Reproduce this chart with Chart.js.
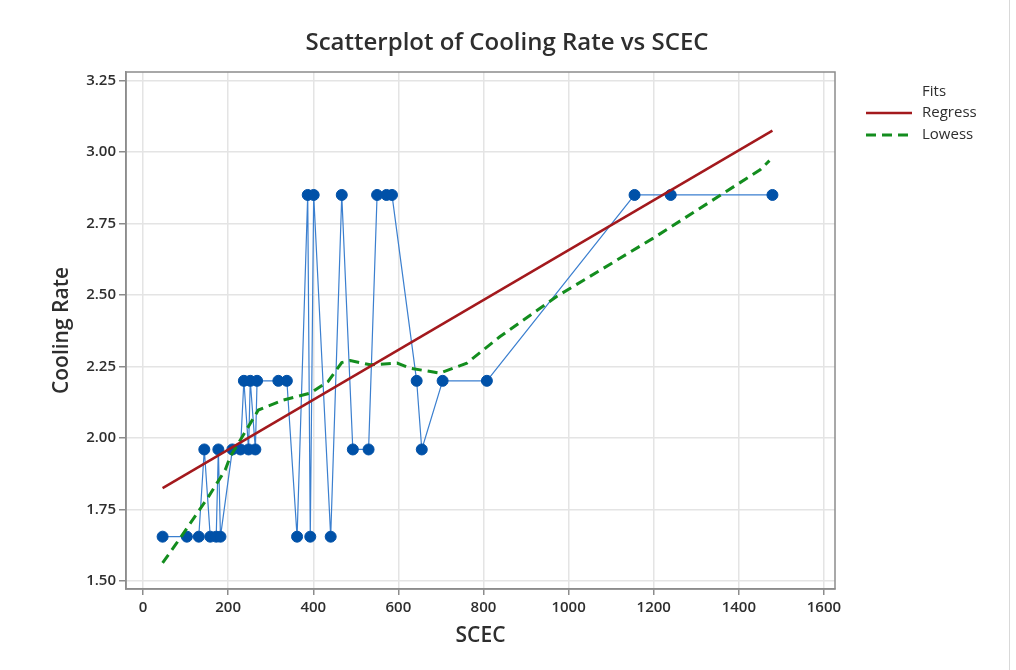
<!DOCTYPE html>
<html>
<head>
<meta charset="utf-8">
<title>Scatterplot of Cooling Rate vs SCEC</title>
<script src="https://cdn.jsdelivr.net/npm/chart.js@4.4.1/dist/chart.umd.min.js"></script>
<style>
  html, body { margin: 0; padding: 0; background: #fff; }
  #wrap { position: relative; width: 1016px; height: 670px; }
  #edge { position: absolute; left: 1009px; top: 0; width: 1px; height: 670px; background: #d9d9d9; }
</style>
</head>
<body>
<div id="wrap">
  <canvas id="chart" width="1016" height="670"></canvas>
  <div id="edge"></div>
</div>
<script>
// observations, in worksheet order
var scec = [46, 103, 131, 144, 158, 172, 177, 182, 210, 229, 237, 248, 252, 264, 268, 318, 338,
  362, 387, 393, 401, 441, 467, 493, 530, 550, 572, 585, 643, 655, 704, 808, 1155, 1240, 1479];
var coolingRate = [1.655, 1.655, 1.655, 1.96, 1.655, 1.655, 1.96, 1.655, 1.96, 1.96, 2.2, 1.96, 2.2, 1.96, 2.2, 2.2, 2.2,
  1.655, 2.85, 1.655, 2.85, 1.655, 2.85, 1.96, 1.96, 2.85, 2.85, 2.85, 2.2, 1.96, 2.2, 2.2, 2.85, 2.85, 2.85];

// fitted lines
var regressX = [46, 1479];
var regressY = [1.825, 3.075];
var lowessX = [46, 76, 154, 193, 205, 229, 271, 330, 393, 435, 467, 487, 534, 597, 628, 698, 761, 839, 972, 1199, 1450, 1472];
var lowessY = [1.563, 1.626, 1.795, 1.888, 1.935, 1.994, 2.098, 2.133, 2.157, 2.198, 2.264, 2.271, 2.256, 2.262, 2.244, 2.227, 2.262, 2.355, 2.495, 2.699, 2.938, 2.97];

var xTicks = [0, 200, 400, 600, 800, 1000, 1200, 1400, 1600];
var yTicks = [1.5, 1.75, 2.0, 2.25, 2.5, 2.75, 3.0, 3.25];

function pairs(xs, ys) {
  return xs.map(function (x, i) { return { x: x, y: ys[i] }; });
}

var FONT = "'Open Sans', 'Noto Sans', sans-serif";
var TEXT = "#2e2e2e";

// frame round the plot area, title and the "Fits" key on the right
var decor = {
  id: "decor",
  afterDatasetsDraw: function (chart) {
    var ctx = chart.ctx, a = chart.chartArea;
    ctx.save();
    ctx.strokeStyle = "#8c8c8c";
    ctx.lineWidth = 1.5;
    ctx.strokeRect(a.left, a.top, a.right - a.left, a.bottom - a.top);

    ctx.fillStyle = TEXT;
    ctx.font = "600 24px " + FONT;
    ctx.textAlign = "center";
    ctx.textBaseline = "middle";
    ctx.fillText("Scatterplot of Cooling Rate vs SCEC", 507, 43);

    ctx.font = "15px " + FONT;
    ctx.textAlign = "left";
    ctx.fillText("Fits", 922, 92);
    var rows = chart.data.datasets.filter(function (d) { return d.inKey; });
    rows.forEach(function (d, i) {
      var y = 113 + i * 22;
      ctx.strokeStyle = d.borderColor;
      ctx.lineWidth = d.borderWidth;
      ctx.setLineDash(d.borderDash || []);
      ctx.beginPath();
      ctx.moveTo(866, y);
      ctx.lineTo(912, y);
      ctx.stroke();
      ctx.setLineDash([]);
      ctx.fillText(d.label, 922, y);
    });
    ctx.restore();
  }
};

var config = {
  type: "scatter",
  data: {
    datasets: [
      {
        label: "Regress",
        inKey: true,
        data: pairs(regressX, regressY),
        showLine: true,
        borderColor: "#a3191d",
        borderWidth: 2.5,
        pointRadius: 0
      },
      {
        label: "Lowess",
        inKey: true,
        data: pairs(lowessX, lowessY),
        showLine: true,
        borderColor: "#138d1e",
        borderWidth: 3,
        borderDash: [10, 6],
        pointRadius: 0
      },
      {
        label: "Cooling Rate",
        data: pairs(scec, coolingRate),
        showLine: true,
        borderColor: "#3b7fcf",
        borderWidth: 1.2,
        pointRadius: 5.5,
        pointBorderWidth: 1,
        pointBackgroundColor: "#0051a8",
        pointBorderColor: "#0051a8"
      }
    ]
  },
  options: {
    responsive: false,
    animation: false,
    layout: {
      padding: { left: 0, right: 181, top: 72, bottom: 0 }
    },
    plugins: {
      legend: { display: false },
      tooltip: { enabled: false }
    },
    scales: {
      x: {
        type: "linear",
        min: -40,
        max: 1626,
        afterBuildTicks: function (scale) {
          scale.ticks = xTicks.map(function (v) { return { value: v }; });
        },
        afterFit: function (scale) { scale.height = 81; },
        grid: { color: "#e4e4e4", lineWidth: 1.5, tickColor: "#8c8c8c", tickLength: 6 },
        border: { color: "#8c8c8c", width: 1.5 },
        ticks: {
          color: TEXT,
          font: { family: FONT, size: 15, weight: "600" },
          padding: 4,
          callback: function (v) { return String(v); }
        },
        title: {
          display: true,
          text: "SCEC",
          color: TEXT,
          font: { family: FONT, size: 21, weight: "600" },
          padding: { top: 0, bottom: 21 }
        }
      },
      y: {
        type: "linear",
        min: 1.472,
        max: 3.28,
        afterBuildTicks: function (scale) {
          scale.ticks = yTicks.map(function (v) { return { value: v }; });
        },
        afterFit: function (scale) { scale.width = 126; },
        grid: { color: "#e4e4e4", lineWidth: 1.5, tickColor: "#8c8c8c", tickLength: 7 },
        border: { color: "#8c8c8c", width: 1.5 },
        ticks: {
          color: TEXT,
          font: { family: FONT, size: 15, weight: "600" },
          padding: 3,
          callback: function (v) { return v.toFixed(2); }
        },
        title: {
          display: true,
          text: "Cooling Rate",
          color: TEXT,
          font: { family: FONT, size: 21, weight: "600" },
          padding: { top: 49, bottom: 0 }
        }
      }
    }
  },
  plugins: [decor]
};

window.onload = function () {
  var ctx = document.getElementById("chart").getContext("2d");
  window.coolingChart = new Chart(ctx, config);
};
</script>
</body>
</html>
